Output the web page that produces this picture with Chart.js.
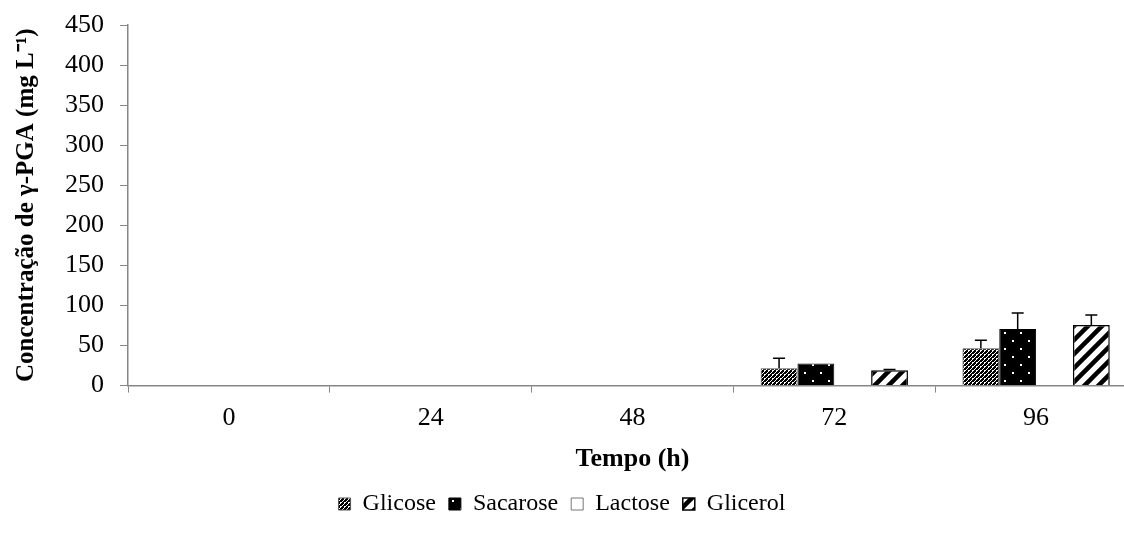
<!DOCTYPE html>
<html>
<head>
<meta charset="utf-8">
<script src="https://cdn.jsdelivr.net/npm/chart.js@4"></script>
<style>
  html, body { margin: 0; padding: 0; background: #fff; overflow: hidden; }
  #wrap { width: 1150px; height: 535px; }
</style>
</head>
<body>
<div id="wrap"><canvas id="myChart"></canvas></div>
<script>
const tempos = ["0", "24", "48", "72", "96"];
const yTicks = [0, 50, 100, 150, 200, 250, 300, 350, 400, 450];

const glicose = [0, 0, 0, 21.5, 46.5];
const sacarose = [0, 0, 0, 27.5, 70.5];
const lactose = [0, 0, 0, 0, 0];
const glicerol = [0, 0, 0, 19, 75.5];

const glicoseErr = [0, 0, 0, 12.5, 10];
const sacaroseErr = [0, 0, 0, 0, 20];
const lactoseErr = [0, 0, 0, 0, 0];
const glicerolErr = [0, 0, 0, 1, 12.5];

const serif = "'Liberation Serif', 'Times New Roman', serif";

// fill patterns like the old Excel ones
function makePattern(size, draw) {
  const c = document.createElement("canvas");
  c.width = size;
  c.height = size;
  const p = c.getContext("2d");
  draw(p, size);
  return p.createPattern(c, "repeat");
}

const checkPattern = makePattern(4, (p) => {
  p.fillStyle = "#fff";
  p.fillRect(0, 0, 4, 4);
  p.fillStyle = "#000";
  p.fillRect(0, 0, 2, 2);
  p.fillRect(2, 2, 2, 2);
  p.fillRect(1, 3, 1, 1);
  p.fillRect(3, 1, 1, 1);
  p.fillRect(2, 0, 1, 1);
});

const dotPattern = makePattern(16, (p) => {
  p.fillStyle = "#000";
  p.fillRect(0, 0, 16, 16);
  p.fillStyle = "#fff";
  p.fillRect(4, 4, 2, 2);
  p.fillRect(12, 12, 2, 2);
});

const stripePattern = makePattern(14, (p, s) => {
  p.fillStyle = "#fff";
  p.fillRect(0, 0, s, s);
  p.strokeStyle = "#000";
  p.lineWidth = 4.5;
  p.beginPath();
  p.moveTo(-2, s + 2); p.lineTo(s + 2, -2);
  p.moveTo(-s / 2 - 2, s / 2 + 2); p.lineTo(s / 2 + 2, -s / 2 - 2);
  p.moveTo(s / 2 - 2, s * 1.5 + 2); p.lineTo(s * 1.5 + 2, s / 2 - 2);
  p.stroke();
});

const errors = [glicoseErr, sacaroseErr, lactoseErr, glicerolErr];

const errorBars = {
  id: "errorBars",
  afterDatasetsDraw: (chart) => {
    const { ctx, scales } = chart;
    ctx.save();
    ctx.strokeStyle = "#000";
    ctx.lineWidth = 1.5;
    chart.data.datasets.forEach((ds, i) => {
      const meta = chart.getDatasetMeta(i);
      meta.data.forEach((bar, j) => {
        const err = errors[i][j];
        if (!err) return;
        const top = scales.y.getPixelForValue(ds.data[j] + err);
        ctx.beginPath();
        ctx.moveTo(bar.x, bar.y);
        ctx.lineTo(bar.x, top);
        ctx.moveTo(bar.x - 6, top);
        ctx.lineTo(bar.x + 6, top);
        ctx.stroke();
      });
    });
    ctx.restore();
  }
};

// legend is centred on the visible 1124px, not on the wider canvas
const legendShift = {
  id: "legendShift",
  afterLayout: (chart) => {
    chart.legend.left = 0;
    chart.legend.right = 1124;
  }
};

const ctx = document.getElementById("myChart").getContext("2d");
new Chart(ctx, {
  type: "bar",
  data: {
    labels: tempos,
    datasets: [
      { label: "Glicose", data: glicose, backgroundColor: checkPattern, borderColor: "#555", borderWidth: 1 },
      { label: "Sacarose", data: sacarose, backgroundColor: dotPattern, borderColor: "#000", borderWidth: 1 },
      { label: "Lactose", data: lactose, backgroundColor: "#fff", borderColor: "#777", borderWidth: 1 },
      { label: "Glicerol", data: glicerol, backgroundColor: stripePattern, borderColor: "#000", borderWidth: 1.5 }
    ]
  },
  options: {
    responsive: true,
    maintainAspectRatio: false,
    animation: false,
    categoryPercentage: 0.73,
    barPercentage: 1,
    layout: { padding: { top: 25, right: 13, left: 0, bottom: 9 } },
    plugins: {
      legend: {
        position: "bottom",
        labels: {
          color: "#000",
          font: { family: serif, size: 24 },
          boxWidth: 12,
          boxHeight: 12,
          padding: 13
        }
      },
      tooltip: { enabled: false }
    },
    scales: {
      x: {
        grid: { display: true, drawOnChartArea: false, offset: true, color: "#868686", tickLength: 7 },
        border: { color: "#868686", width: 1.5 },
        ticks: { color: "#000", font: { family: serif, size: 26 }, padding: 10 },
        title: {
          display: true,
          text: "Tempo (h)",
          color: "#000",
          font: { family: serif, size: 26, weight: "bold" },
          padding: { top: 0, bottom: 4 }
        }
      },
      y: {
        min: 0,
        max: 450,
        afterBuildTicks: (axis) => { axis.ticks = yTicks.map(v => ({ value: v })); },
        afterFit: (axis) => {
          axis.width = 128;
          axis.paddingTop = 0;
          axis.paddingBottom = 0;
        },
        grid: { display: true, drawOnChartArea: false, color: "#868686", tickLength: 8 },
        border: { color: "#868686", width: 1.5 },
        ticks: { color: "#000", font: { family: serif, size: 26 }, padding: 16 },
        title: {
          display: true,
          text: "Concentração de γ-PGA (mg L⁻¹)",
          color: "#000",
          font: { family: serif, size: 25, weight: "bold" },
          padding: { top: 12, bottom: 0 }
        }
      }
    }
  },
  plugins: [errorBars, legendShift]
});
</script>
</body>
</html>
